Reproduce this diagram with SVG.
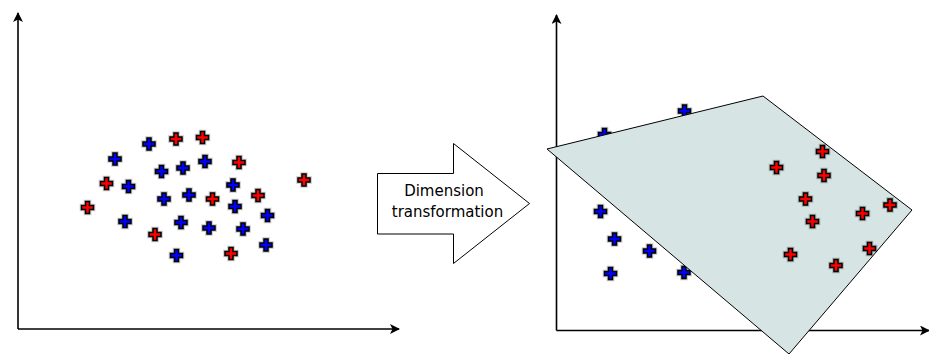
<svg xmlns="http://www.w3.org/2000/svg" width="929" height="354" viewBox="0 0 929 354">
<style>
.axis{stroke:#000;stroke-width:1.6;fill:none}
.b{fill:#0000ff}
.r{fill:#ff0000}
.halo{fill:none;stroke:#000;stroke-opacity:0.22;stroke-width:3.6}
.plane{fill:#d6e4e4;stroke:#000;stroke-width:1}
.bigarrow{fill:#fff;stroke:#000;stroke-width:1}
.lbl{font-family:"DejaVu Sans",sans-serif;font-size:15px;fill:#000;text-anchor:middle}
</style>
<defs>
<marker id="ah" viewBox="0 0 10 10" refX="9" refY="5" markerWidth="10" markerHeight="10" markerUnits="userSpaceOnUse" orient="auto">
<path d="M0,0 L10,5 L0,10 L2.5,5 Z" fill="#000"/>
</marker>
<g id="p">
<path class="halo" d="M-2,-6 H2 V-2 H6 V2 H2 V6 H-2 V2 H-6 V-2 H-2 Z"/>
<path d="M-2,-6 H2 V-2 H6 V2 H2 V6 H-2 V2 H-6 V-2 H-2 Z" stroke="#000" stroke-width="1.5"/>
</g>
</defs>
<g id="connectors">
<line class="axis" x1="18" y1="329" x2="18" y2="13" marker-end="url(#ah)"/>
<line class="axis" x1="18" y1="329" x2="399" y2="329" marker-end="url(#ah)"/>
<line class="axis" x1="556.5" y1="330.5" x2="556.5" y2="15" marker-end="url(#ah)"/>
<line class="axis" x1="556.5" y1="330.5" x2="929" y2="330.5" marker-end="url(#ah)"/>
</g>
<g id="left-points">
<use href="#p" class="b" x="149" y="144"/>
<use href="#p" class="b" x="115" y="159"/>
<use href="#p" class="b" x="161.5" y="171.5"/>
<use href="#p" class="b" x="183" y="168"/>
<use href="#p" class="b" x="205" y="161.5"/>
<use href="#p" class="b" x="128.5" y="186.5"/>
<use href="#p" class="b" x="164" y="199"/>
<use href="#p" class="b" x="189" y="195"/>
<use href="#p" class="b" x="233" y="185"/>
<use href="#p" class="b" x="235" y="206.5"/>
<use href="#p" class="b" x="267.5" y="215.5"/>
<use href="#p" class="b" x="125" y="221.5"/>
<use href="#p" class="b" x="181" y="222.5"/>
<use href="#p" class="b" x="209" y="228"/>
<use href="#p" class="b" x="243" y="229"/>
<use href="#p" class="b" x="266" y="245"/>
<use href="#p" class="b" x="176.5" y="255.5"/>
<use href="#p" class="r" x="176" y="139"/>
<use href="#p" class="r" x="202.5" y="137.5"/>
<use href="#p" class="r" x="239" y="162.5"/>
<use href="#p" class="r" x="106.5" y="183.5"/>
<use href="#p" class="r" x="304" y="180"/>
<use href="#p" class="r" x="87.5" y="207.5"/>
<use href="#p" class="r" x="212.5" y="199"/>
<use href="#p" class="r" x="258" y="195.5"/>
<use href="#p" class="r" x="155" y="234.5"/>
<use href="#p" class="r" x="231" y="253.5"/>
</g>
<g id="transform-arrow">
<path class="bigarrow" d="M377.5,173.5 H453.5 V143.5 L529.5,203.5 L453.5,263.5 V234 H377.5 Z"/>
<text class="lbl" x="444" y="196">Dimension</text>
<text class="lbl" x="447.5" y="217">transformation</text>
</g>
<g id="right-blue">
<use href="#p" class="b" x="684.5" y="111"/>
<use href="#p" class="b" x="604.5" y="134.5"/>
<use href="#p" class="b" x="600.5" y="211.5"/>
<use href="#p" class="b" x="614.5" y="239"/>
<use href="#p" class="b" x="649.5" y="251"/>
<use href="#p" class="b" x="610.5" y="273.5"/>
<use href="#p" class="b" x="684" y="272.5"/>
</g>
<g id="plane">
<path class="plane" d="M547,149 L763,96 L912,210 L789,354 Z"/>
</g>
<g id="right-red">
<use href="#p" class="r" x="822.5" y="151.5"/>
<use href="#p" class="r" x="776.5" y="167.5"/>
<use href="#p" class="r" x="824" y="175.5"/>
<use href="#p" class="r" x="805.5" y="199"/>
<use href="#p" class="r" x="862.5" y="213.5"/>
<use href="#p" class="r" x="890" y="205"/>
<use href="#p" class="r" x="812.5" y="221.5"/>
<use href="#p" class="r" x="869.5" y="248.5"/>
<use href="#p" class="r" x="790.5" y="254.5"/>
<use href="#p" class="r" x="836" y="265.5"/>
</g>
</svg>
